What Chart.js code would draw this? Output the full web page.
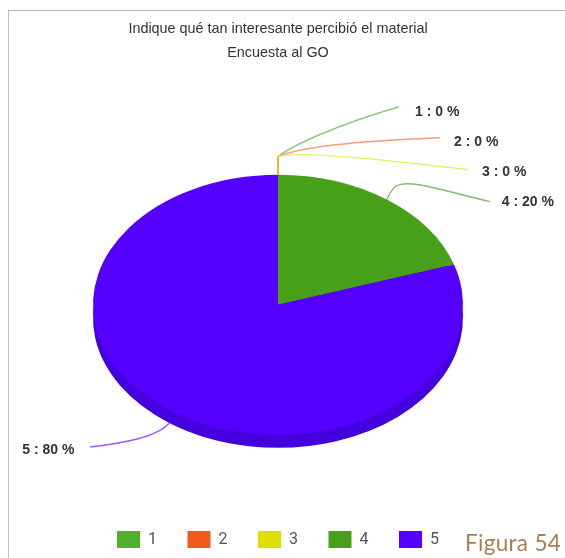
<!DOCTYPE html>
<html><head><meta charset="utf-8">
<style>
html,body{margin:0;padding:0;background:#fff;overflow:hidden}
#frame{position:absolute;left:8px;top:10px;right:0;bottom:0;border-left:1px solid #bdbdbd;border-top:1px solid #bdbdbd}
#fig{position:absolute;left:465px;top:529px;font:22.5px Lato,sans-serif;color:#a97f55;letter-spacing:.3px}
canvas{position:absolute;left:0;top:0}
</style>
<script src="https://cdn.jsdelivr.net/npm/chart.js@4/dist/chart.umd.min.js"></script>
</head><body>
<div id="frame"></div>
<canvas id="c" width="565" height="558"></canvas>
<div id="fig">Figura 54</div>
<script>
const categories=['1','2','3','4','5'];
const values=[0,0,0,20,80];
const colors=['#4fb030','#f05a1a','#e0e000','#48a01a','#5500ff'];
const lineColors=['#8ccb78','#f59c80','#ecec60','#84bc6c','#9a5cff'];
const titleLines=['Indique qué tan interesante percibió el material','Encuesta al GO'];
const SQUASH=130/185, DEPTH=13;
// leader geometry relative to each slice's anchor: control points and label offset
const leaders=[
 {stem:18,c1:[15,-30],c2:[60,-50],end:[121,-68],text:[137,-63]},
 {stem:18,c1:[15,-25],c2:[60,-33],end:[162,-37],text:[176,-33]},
 {stem:18,c1:[10,-22],c2:[60,-21],end:[190,-5],text:[204,-3]},
 {stem:0,knee:[13,-15],c1:[30,-19],c2:[60,-8],end:[103,2],text:[115,3]},
 {stem:0,c1:[-12,14],c2:[-45,20],end:[-79,24],text:[-147,27]}
];
const ellipse={
 id:'ellipse',
 beforeDatasetDraw(chart){
  const ctx=chart.ctx, arcs=chart.getDatasetMeta(0).data, a=arcs[0];
  ctx.save();
  ctx.translate(a.x,a.y+DEPTH);ctx.scale(1,SQUASH);ctx.translate(-a.x,-a.y);
  arcs.forEach(el=>{
   const o=el.options;
   el.options=Object.assign({},o,{backgroundColor:'#4400dd',borderColor:'#4400dd'});
   el.draw(ctx);
   el.options=o;
  });
  ctx.restore();
  ctx.save();
  ctx.translate(a.x,a.y);ctx.scale(1,SQUASH);ctx.translate(-a.x,-a.y);
 },
 afterDatasetDraw(chart){
  chart.ctx.restore();
  const ctx=chart.ctx, arcs=chart.getDatasetMeta(0).data;
  ctx.save();
  arcs.forEach((el,i)=>{
   const L=leaders[i], mid=(el.startAngle+el.endAngle)/2;
   const ax=el.x+el.outerRadius*Math.cos(mid);
   let ay=el.y+el.outerRadius*SQUASH*Math.sin(mid);
   if(Math.sin(mid)>0) ay+=DEPTH;
   ctx.beginPath();
   ctx.strokeStyle=lineColors[i];ctx.lineWidth=1.5;
   ctx.moveTo(ax,ay);
   let bx=ax,by=ay-L.stem;
   if(L.stem) ctx.lineTo(bx,by);
   if(L.knee){bx=ax+L.knee[0];by=ay+L.knee[1];ctx.quadraticCurveTo(ax+6,ay-14,bx,by);}
   ctx.bezierCurveTo(ax+L.c1[0],ay+L.c1[1],ax+L.c2[0],ay+L.c2[1],ax+L.end[0],ay+L.end[1]);
   ctx.stroke();
   ctx.fillStyle='#333';ctx.font='bold 14px "Liberation Sans",Arial,sans-serif';
   ctx.textAlign='left';ctx.textBaseline='middle';
   ctx.fillText(categories[i]+' : '+values[i]+' %',ax+L.text[0],ay+L.text[1]);
  });
  ctx.beginPath();
  ctx.strokeStyle='#d8b020';ctx.lineWidth=1.5;
  const a=arcs[0], top=a.y-a.outerRadius*SQUASH;
  ctx.moveTo(a.x,top);ctx.lineTo(a.x,top-18);ctx.stroke();
  ctx.restore();
 }
};
new Chart(document.getElementById('c'),{
 type:'pie',
 data:{labels:categories,datasets:[{data:values,backgroundColor:colors,borderWidth:0,radius:185}]},
 options:{
  responsive:false,animation:false,
  layout:{padding:{right:9,top:18,bottom:0}},
  plugins:{
   tooltip:{enabled:false},
   title:{display:true,text:titleLines,color:'#333',
    font:{family:'"Liberation Sans",Arial,sans-serif',size:14.4,weight:'normal',lineHeight:1.6},
    padding:{top:0,bottom:45}},
   legend:{position:'bottom',
    labels:{boxWidth:23,boxHeight:17,padding:30.5,color:'#555',
     font:{family:'Roboto,sans-serif',size:16}}}
  }
 },
 plugins:[ellipse]
});
</script>
</body></html>
